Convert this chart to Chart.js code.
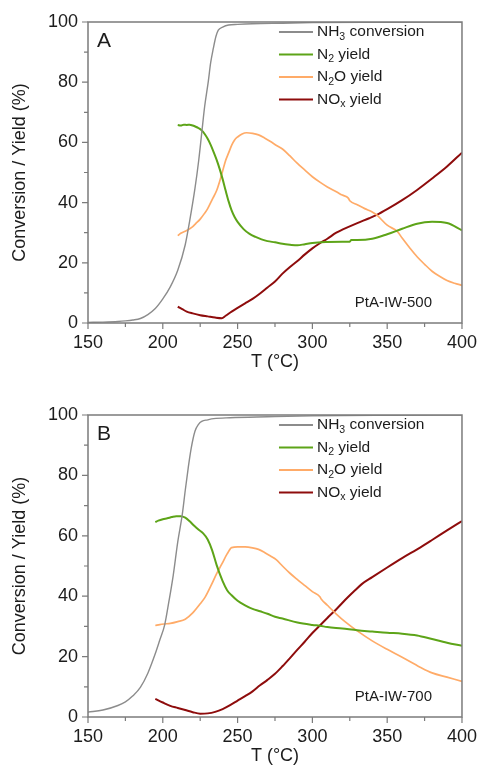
<!DOCTYPE html>
<html>
<head>
<meta charset="utf-8">
<script src="https://cdn.jsdelivr.net/npm/chart.js@4"></script>
<style>
  body { margin: 0; background: #fff; }
  canvas { display: block; }
</style>
</head>
<body>
<canvas id="grafA" width="480" height="380"></canvas>
<canvas id="grafB" width="480" height="387"></canvas>
<script>
// Panel A (PtA-IW-500)
const tA_NH3 = [150,160,170,175,180,185,190,195,200,205,210,215,218,221.5,224,226,228,230.4,232,233.8,235.5,237.1,240,244,250,260,280,300,350,400];
const A_NH3  = [0.2,0.3,0.5,0.7,1.0,1.5,2.8,4.8,8.0,12,17.5,26,34,44.7,54,63,72,80.2,86.5,91.3,95.2,97.3,98.3,99.0,99.2,99.4,99.6,99.8,99.9,100];
const tA_N2 = [210,212,214,216,218,220,222,224,226,228,230,232,234,236,238,240,242,244,246,248,250,254,258,262,266,270,275,280,285,290,295,300,310,320,325,326,330,340,350,360,370,380,390,400];
const A_N2  = [65.8,65.6,65.9,65.8,65.9,65.6,65.2,64.7,64,62.8,61.2,59.2,56.8,54.2,51.2,47.8,44,40.4,37.4,35.2,33.6,31.2,29.6,28.6,27.8,27.2,26.8,26.3,26,25.8,26.2,26.6,26.9,27,27,27.6,27.6,28,29.5,31.3,33,33.6,33.2,30.8];
const tA_N2O = [210,212,215,218,220,222,225,228,230,233,236,238,240,242,244,246,248,250,253,256,260,264,268,272,276,280,285,290,295,300,305,310,316,320,324,325,330,335,340,343,350,357,360,365,370,375,380,385,390,395,400];
const A_N2O  = [29,29.8,30.5,31.3,32,33,34.5,36.5,38,41,44,47,50.5,54,56.5,59,60.8,61.8,62.8,63.2,63,62.5,61.5,60.3,59,57.8,55.5,53,50.8,48.6,46.8,45.2,43.6,42.5,41.5,40.6,39.3,38,36.9,35.9,32.5,30.3,28.2,25,22,19.5,17.2,15.5,14.1,13.2,12.5];
const tA_NOx = [210,213,216,220,225,230,235,239.4,242,246,250,255,260,265,270,275,280,285,290,295,300,305,310,316,320,330,338,343,350,360,370,380,390,400];
const A_NOx  = [5.4,4.6,3.8,3.2,2.6,2.2,1.8,1.6,2.4,3.8,5.0,6.5,8.0,9.8,11.8,13.8,16.4,18.6,20.6,22.8,24.8,26.5,28,30,31,33.2,34.8,35.9,37.8,40.8,44.2,48,52,56.6];

// Panel B (PtA-IW-700)
const tB_NH3 = [150,160,170,175,180,185,190,195,198,201.3,204,207,210,213,215,217,219,221.5,224,226,230,234,245,270,300,350,400];
const B_NH3  = [1.6,2.3,3.8,5,7,9.8,14.5,21,25.5,30.6,38,47,58,67,75,82.5,89,94.6,97,97.9,98.4,98.8,99.1,99.4,99.7,99.9,100];
const tB_N2 = [195,197,200,203,206,209,212,215,218,221,224,227,230,233,236,240,243,246,250,255,260,265,270,275,280,290,300,305,310,320,330,340,350,360,370,380,390,400];
const B_N2  = [64.5,65,65.5,65.8,66.2,66.5,66.5,66,64.8,63.3,62,60.8,58.8,55.2,50.3,45,42,40.3,38.5,37,35.8,35,34.2,33.2,32.6,31.3,30.5,30.2,29.8,29.3,28.7,28.3,27.9,27.6,27,25.8,24.6,23.6];
const tB_N2O = [195,198,201,205,210,215,220,225,228.2,232.7,236,239.4,243,246,250,255,260,264,268,272,276,280,285,290,295,300,305,306,310,316,322,330,340,350,360,372,380,390,400];
const B_N2O  = [30.3,30.6,30.8,31,31.6,32.4,34.5,37.5,39.6,44,47.5,50.6,54,56.1,56.3,56.3,56,55.5,54.5,53.3,52,50,47.6,45.5,43.5,41.5,39.8,39,37,34.1,31.5,28.5,25.2,22.4,19.8,16.5,14.6,13.2,11.8];
const tB_NOx = [195,200,205,210,215,220,225,230,235,240,245,250,255,260,265,270,275,280,285,290,295,300,305,310,316,322,328,333,340,350,360,372,380,390,400];
const B_NOx  = [6,4.8,3.7,3.0,2.3,1.6,1.1,1.2,1.7,2.6,3.9,5.4,6.9,8.5,10.5,12.3,14.3,16.8,19.5,22.3,25,27.8,30.3,32.8,35.7,38.8,41.7,44,46.3,49.5,52.6,56.1,58.6,61.8,64.9];

// legendtexter: [text, nedsänkt?]
const namn = [
  [['NH', 0], ['3', 1], [' conversion', 0]],
  [['N', 0], ['2', 1], [' yield', 0]],
  [['N', 0], ['2', 1], ['O yield', 0]],
  [['NO', 0], ['x', 1], [' yield', 0]]
];
const farger = ['#8c8c8c', '#5da418', '#ffab68', '#8e0c0c'];
const bredder = [1.4, 2, 1.7, 2];

const typsnitt = "'Liberation Sans', Arial, sans-serif";
const textFarg = '#1c1c1c';

function skrivDelar(ctx, delar, x, y, storlek) {
  delar.forEach(([txt, sub]) => {
    const s = sub ? storlek * 0.68 : storlek;
    ctx.font = s + 'px ' + typsnitt;
    ctx.fillText(txt, x, sub ? y + storlek * 0.3 : y);
    x += ctx.measureText(txt).width;
  });
}

const ram = {
  id: 'ram',
  afterDatasetsDraw(chart, args, opts) {
    const { ctx, chartArea: a, scales: { x, y } } = chart;
    ctx.save();
    ctx.strokeStyle = '#7b7b7b';
    ctx.lineWidth = 1.5;
    ctx.strokeRect(a.left, a.top, a.right - a.left, a.bottom - a.top);

    // tickmarkeringar utanför axlarna
    ctx.beginPath();
    x.ticks.forEach(t => {
      const px = x.getPixelForValue(t.value);
      const len = t.value % 50 === 0 ? 6 : 4;
      ctx.moveTo(px, a.bottom);
      ctx.lineTo(px, a.bottom + len);
    });
    y.ticks.forEach(t => {
      const py = y.getPixelForValue(t.value);
      const len = t.value % 20 === 0 ? 6 : 4;
      ctx.moveTo(a.left, py);
      ctx.lineTo(a.left - len, py);
    });
    ctx.lineWidth = 1.2;
    ctx.stroke();

    // legend
    ctx.textBaseline = 'middle';
    ctx.textAlign = 'left';
    chart.data.datasets.forEach((ds, i) => {
      const ry = a.top + 10 + i * 22.5;
      ctx.beginPath();
      ctx.strokeStyle = ds.borderColor;
      ctx.lineWidth = 2;
      ctx.moveTo(a.right - 183, ry);
      ctx.lineTo(a.right - 149, ry);
      ctx.stroke();
      ctx.fillStyle = textFarg;
      skrivDelar(ctx, namn[i], a.right - 145, ry, 15.5);
    });

    // panelbokstav och provnamn
    ctx.fillStyle = textFarg;
    ctx.font = '21px ' + typsnitt;
    ctx.fillText(opts.bokstav, a.left + 9, a.top + 19);
    ctx.font = '15px ' + typsnitt;
    ctx.textAlign = 'right';
    ctx.fillText(opts.prov, a.right - 30, a.bottom - 20);
    ctx.restore();
  }
};

function ritaPanel(id, serier, bokstav, prov, padTopp, padBotten) {
  const ctx = document.getElementById(id).getContext('2d');
  return new Chart(ctx, {
    type: 'line',
    data: {
      datasets: serier.map((s, i) => ({
        label: namn[i].map(d => d[0]).join(''),
        data: s[0].map((t, j) => ({ x: t, y: s[1][j] })),
        borderColor: farger[i],
        borderWidth: bredder[i],
        pointRadius: 0,
        cubicInterpolationMode: 'monotone',
        fill: false
      }))
    },
    options: {
      responsive: false,
      animation: false,
      events: [],
      layout: { padding: { top: padTopp, right: 18, left: 0, bottom: padBotten } },
      plugins: {
        legend: { display: false },
        tooltip: { enabled: false },
        ram: { bokstav: bokstav, prov: prov }
      },
      scales: {
        x: {
          type: 'linear',
          min: 150,
          max: 400,
          border: { display: false },
          grid: { drawOnChartArea: false, tickLength: 6, tickColor: 'rgba(0,0,0,0)' },
          ticks: {
            stepSize: 25,
            autoSkip: false,
            maxRotation: 0,
            padding: 3,
            color: textFarg,
            font: { family: typsnitt, size: 18 },
            callback: v => (v % 50 === 0 ? v : '')
          },
          title: {
            display: true,
            text: 'T (°C)',
            color: textFarg,
            font: { family: typsnitt, size: 18 },
            padding: { top: 0, bottom: 0 }
          },
          afterFit: s => { s.height = 50; }
        },
        y: {
          min: 0,
          max: 100,
          border: { display: false },
          grid: { drawOnChartArea: false, tickLength: 6, tickColor: 'rgba(0,0,0,0)' },
          ticks: {
            stepSize: 10,
            autoSkip: false,
            padding: 4,
            color: textFarg,
            font: { family: typsnitt, size: 18 },
            callback: v => (v % 20 === 0 ? v : '')
          },
          title: {
            display: true,
            text: 'Conversion / Yield (%)',
            color: textFarg,
            font: { family: typsnitt, size: 18 },
            padding: { top: 9, bottom: 0 }
          },
          afterFit: s => { s.width = 88; }
        }
      }
    },
    plugins: [ram]
  });
}

ritaPanel('grafA', [[tA_NH3, A_NH3], [tA_N2, A_N2], [tA_N2O, A_N2O], [tA_NOx, A_NOx]], 'A', 'PtA-IW-500', 22, 7);
ritaPanel('grafB', [[tB_NH3, B_NH3], [tB_N2, B_N2], [tB_N2O, B_N2O], [tB_NOx, B_NOx]], 'B', 'PtA-IW-700', 35, 0);
</script>
</body>
</html>
